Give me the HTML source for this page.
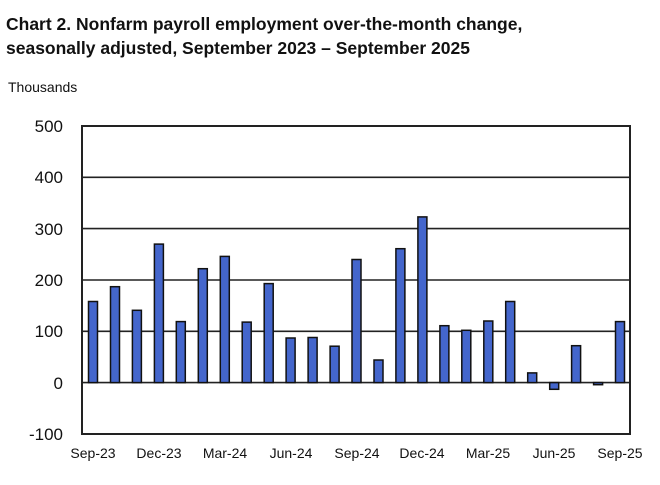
<!DOCTYPE html>
<html><head><style>
body{margin:0;background:#fff;width:660px;height:480px;overflow:hidden;font-family:"Liberation Sans",Arial,sans-serif}
</style></head><body>
<svg width="660" height="480" xmlns="http://www.w3.org/2000/svg" font-family="Liberation Sans, Arial, sans-serif">
<text x="6" y="30" font-size="17.5" font-weight="bold" fill="#111">Chart 2. Nonfarm payroll employment over-the-month change,</text>
<text x="6" y="54" font-size="17.5" font-weight="bold" fill="#111">seasonally adjusted, September 2023 – September 2025</text>
<text x="8" y="92" font-size="14" fill="#111">Thousands</text>
<g stroke="#222" stroke-width="1.6">
<line x1="82" y1="126" x2="630" y2="126"/>
<line x1="82" y1="177.3" x2="630" y2="177.3"/>
<line x1="82" y1="228.6" x2="630" y2="228.6"/>
<line x1="82" y1="280" x2="630" y2="280"/>
<line x1="82" y1="331.3" x2="630" y2="331.3"/>
<line x1="82" y1="382.6" x2="630" y2="382.6"/>
</g>
<g font-size="17" fill="#111" text-anchor="end">
<text x="63" y="132">500</text><text x="63" y="183">400</text><text x="63" y="235">300</text>
<text x="63" y="286">200</text><text x="63" y="337">100</text><text x="63" y="389">0</text><text x="63" y="440">-100</text>
</g>
<g fill="#4466cc" stroke="#111" stroke-width="1.5">
<rect x="88.5" y="301.5" width="9" height="81.1"/>
<rect x="110.5" y="286.7" width="9" height="95.9"/>
<rect x="132.4" y="310.3" width="9" height="72.3"/>
<rect x="154.4" y="244.1" width="9" height="138.5"/>
<rect x="176.3" y="321.6" width="9" height="61"/>
<rect x="198.3" y="268.7" width="9" height="113.9"/>
<rect x="220.3" y="256.4" width="9" height="126.2"/>
<rect x="242.2" y="322.1" width="9" height="60.5"/>
<rect x="264.2" y="283.6" width="9" height="99"/>
<rect x="286.1" y="338" width="9" height="44.6"/>
<rect x="308.1" y="337.5" width="9" height="45.1"/>
<rect x="330.1" y="346.2" width="9" height="36.4"/>
<rect x="352" y="259.5" width="9" height="123.1"/>
<rect x="374" y="360" width="9" height="22.6"/>
<rect x="395.9" y="248.7" width="9" height="133.9"/>
<rect x="417.9" y="216.9" width="9" height="165.7"/>
<rect x="439.9" y="325.7" width="9" height="56.9"/>
<rect x="461.8" y="330.3" width="9" height="52.3"/>
<rect x="483.8" y="321" width="9" height="61.6"/>
<rect x="505.7" y="301.5" width="9" height="81.1"/>
<rect x="527.7" y="372.9" width="9" height="9.7"/>
<rect x="549.7" y="382.6" width="9" height="6.7"/>
<rect x="571.6" y="345.7" width="9" height="36.9"/>
<rect x="593.6" y="382.6" width="9" height="2.1"/>
<rect x="615.5" y="321.6" width="9" height="61"/>
</g>
<rect x="82" y="126" width="548" height="308" fill="none" stroke="#222" stroke-width="2"/>
<g font-size="14" fill="#111" text-anchor="middle">
<text x="93" y="458">Sep-23</text><text x="159" y="458">Dec-23</text><text x="225" y="458">Mar-24</text>
<text x="291" y="458">Jun-24</text><text x="357" y="458">Sep-24</text><text x="422" y="458">Dec-24</text>
<text x="488" y="458">Mar-25</text><text x="554" y="458">Jun-25</text><text x="620" y="458">Sep-25</text>
</g>
</svg>
</body></html>
